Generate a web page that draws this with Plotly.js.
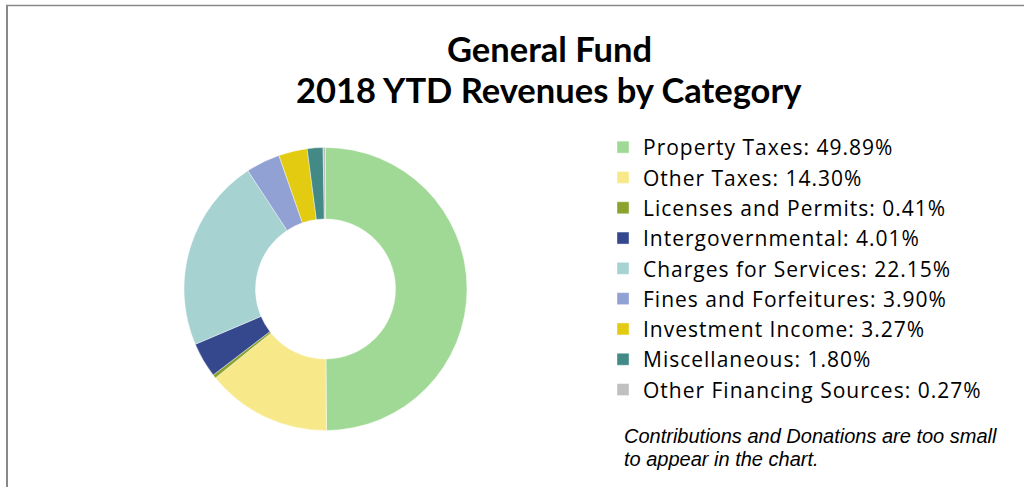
<!DOCTYPE html>
<html>
<head>
<meta charset="utf-8">
<script src="https://cdn.plot.ly/plotly-3.0.1.min.js"></script>
<style>html,body{margin:0;padding:0;background:#fff}#chart{width:1024px;height:487px}
.legendtext{letter-spacing:1px}</style>
</head>
<body>
<div id="chart"></div>
<script>
var categories = ["Property Taxes", "Other Taxes", "Licenses and Permits", "Intergovernmental",
  "Charges for Services", "Fines and Forfeitures", "Investment Income", "Miscellaneous",
  "Other Financing Sources"];
var shares = [49.89, 14.30, 0.41, 4.01, 22.15, 3.90, 3.27, 1.80, 0.27];
var colors = ["#A0D995", "#F7E98A", "#8BA22F", "#36488D", "#A6D3D1", "#91A1D3", "#E3CB11", "#438A86", "#C0C0C0"];
var titleLines = ["General Fund", "2018 YTD Revenues by Category"];
var noteLines = ["Contributions and Donations are too small", "to appear in the chart."];

var labels = categories.map(function (c, i) { return c + ": " + shares[i].toFixed(2) + "%"; });

var trace = {
  type: "pie",
  labels: labels,
  values: shares,
  sort: false,
  direction: "clockwise",
  rotation: 0,
  hole: 0.495,
  textinfo: "none",
  hoverinfo: "label",
  marker: { colors: colors, line: { color: "#ffffff", width: 0.4 } },
  domain: { x: [184 / 1024, 467 / 1024], y: [56.5 / 487, 339.5 / 487] }
};

var titleFont = { family: "Lato, sans-serif", size: 34.5, color: "#000", weight: "bold" };
var noteFont = { family: "Liberation Sans, Arial, sans-serif", size: 20, color: "#000", style: "italic" };
var titleY = [48, 89];
var noteY = [435.5, 458.5];

var annotations = [];
titleLines.forEach(function (t, i) {
  annotations.push({ text: "<b>" + t + "</b>", xref: "paper", yref: "paper", x: 549 / 1024, y: 1 - titleY[i] / 487,
    xanchor: "center", yanchor: "middle", showarrow: false, font: titleFont });
});
noteLines.forEach(function (t, i) {
  annotations.push({ text: t, xref: "paper", yref: "paper", x: 622 / 1024, y: 1 - noteY[i] / 487,
    xanchor: "left", yanchor: "middle", align: "left", showarrow: false, font: noteFont });
});

var layout = {
  width: 1024, height: 487,
  margin: { l: 0, r: 0, t: 0, b: 0 },
  paper_bgcolor: "#ffffff",
  showlegend: true,
  legend: {
    x: 603 / 1024, xanchor: "left",
    y: 1 - 127 / 487, yanchor: "top",
    font: { family: "Open Sans, sans-serif", size: 21, color: "#000" },
    bgcolor: "rgba(0,0,0,0)"
  },
  annotations: annotations,
  shapes: [
    { type: "line", xref: "paper", yref: "paper", x0: 6 / 1024, x1: 1, y0: 1 - 5.5 / 487, y1: 1 - 5.5 / 487,
      line: { color: "#888888", width: 1.3 } },
    { type: "line", xref: "paper", yref: "paper", x0: 7 / 1024, x1: 7 / 1024, y0: 0, y1: 1 - 5 / 487,
      line: { color: "#888888", width: 2 } }
  ]
};

Plotly.newPlot("chart", [trace], layout, { displayModeBar: false, staticPlot: true });
</script>
</body>
</html>
